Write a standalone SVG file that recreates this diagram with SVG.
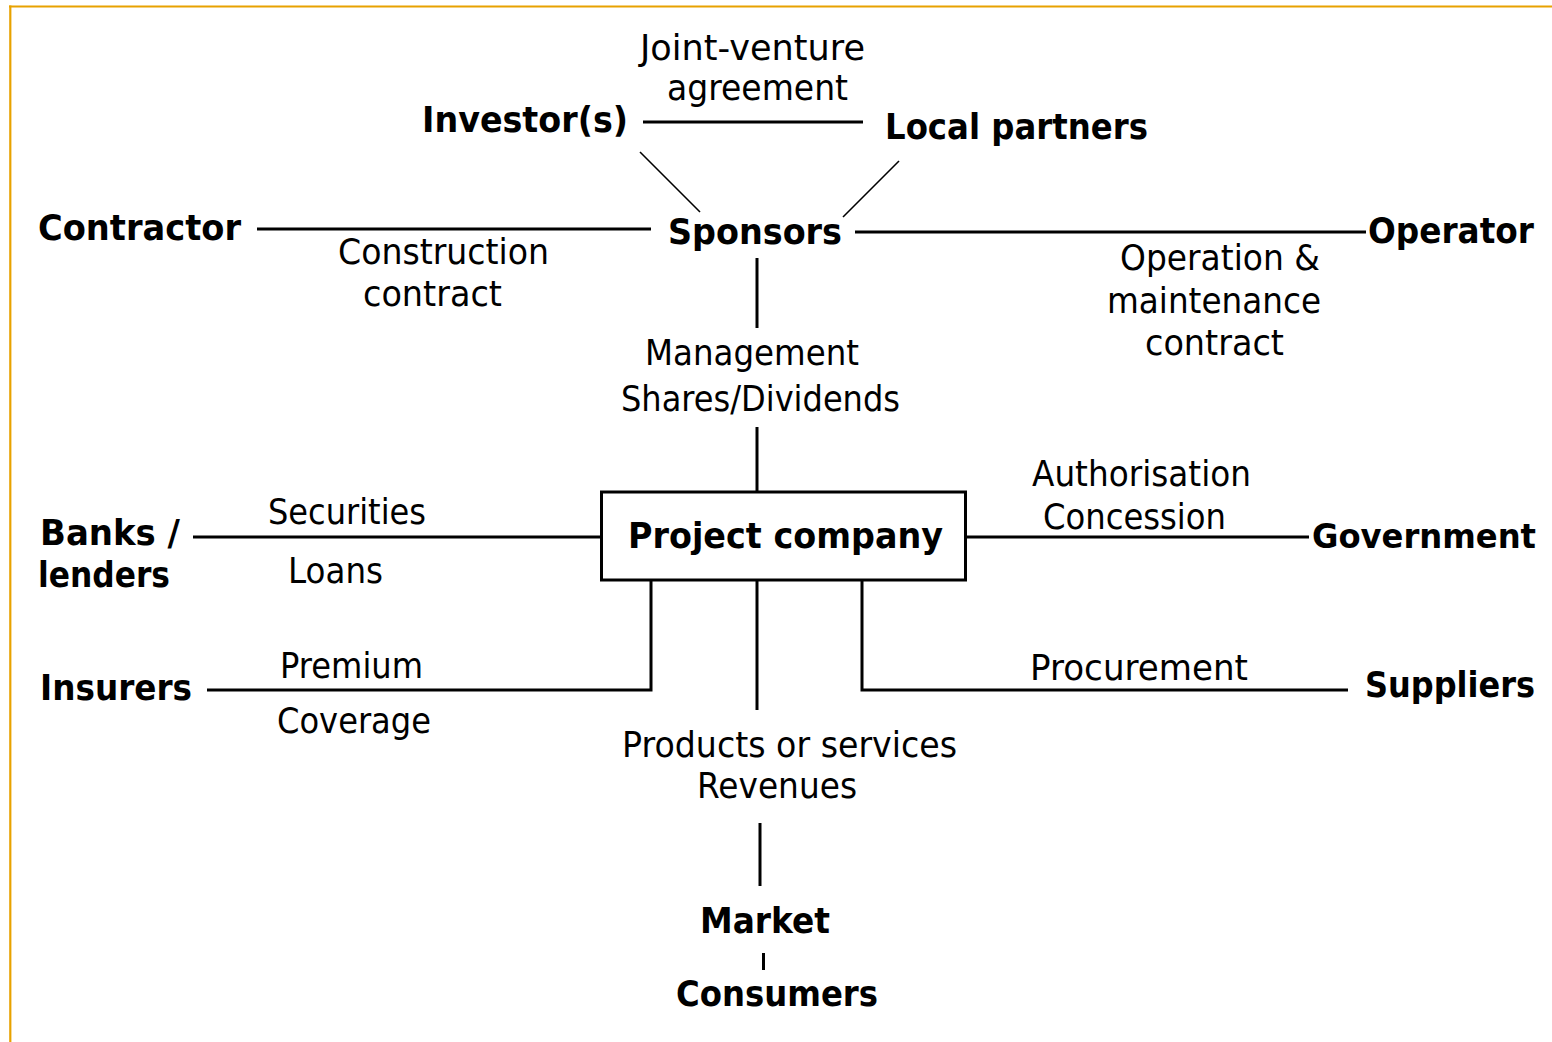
<svg xmlns="http://www.w3.org/2000/svg" width="1552" height="1042" viewBox="0 0 1552 1042">
<style>
.b{font-family:"DejaVu Sans","Liberation Sans",sans-serif;font-weight:bold;font-size:35px;fill:#000}
.r{font-family:"DejaVu Sans","Liberation Sans",sans-serif;font-size:35px;fill:#000}
.ln{stroke:#000;stroke-width:3;fill:none}
.dg{stroke:#000;stroke-width:1.6;fill:none}
</style>
<rect width="1552" height="1042" fill="#fff"/>
<g id="frame">
<line x1="9" y1="6.5" x2="1552" y2="6.5" stroke="#E8A200" stroke-width="2.2"/>
<line x1="10.3" y1="5.5" x2="10.3" y2="1042" stroke="#E8A200" stroke-width="2.2"/>
</g>
<g id="connectors">
<line class="ln" x1="643" y1="122" x2="863" y2="122"/>
<line class="dg" x1="640" y1="152" x2="700" y2="212"/>
<line class="dg" x1="899" y1="161" x2="843" y2="217"/>
<line class="ln" x1="257" y1="229" x2="651" y2="229"/>
<line class="ln" x1="855" y1="232" x2="1366" y2="232"/>
<line class="ln" x1="757" y1="258" x2="757" y2="328"/>
<line class="ln" x1="757" y1="427" x2="757" y2="491"/>
<line class="ln" x1="193" y1="537" x2="600" y2="537"/>
<line class="ln" x1="967" y1="537" x2="1309" y2="537"/>
<polyline class="ln" points="207,690 651,690 651,580"/>
<polyline class="ln" points="862,580 862,690 1348,690"/>
<line class="ln" x1="757" y1="580" x2="757" y2="710"/>
<line class="ln" x1="760" y1="823" x2="760" y2="886"/>
<line class="ln" x1="763.5" y1="953" x2="763.5" y2="970"/>
</g>
<g id="node-project-company">
<rect x="601.5" y="492" width="364" height="88" fill="#fff" stroke="#000" stroke-width="3"/>
<text class="b" x="628" y="548" textLength="315" lengthAdjust="spacingAndGlyphs">Project company</text>
</g>
<g id="node-investors"><text class="b" x="422" y="132" textLength="206" lengthAdjust="spacingAndGlyphs">Investor(s)</text></g>
<g id="node-local-partners"><text class="b" x="885" y="139" textLength="263" lengthAdjust="spacingAndGlyphs">Local partners</text></g>
<g id="node-contractor"><text class="b" x="38" y="240" textLength="203" lengthAdjust="spacingAndGlyphs">Contractor</text></g>
<g id="node-sponsors"><text class="b" x="668" y="244" textLength="174" lengthAdjust="spacingAndGlyphs">Sponsors</text></g>
<g id="node-operator"><text class="b" x="1368" y="243" textLength="166" lengthAdjust="spacingAndGlyphs">Operator</text></g>
<g id="node-banks">
<text class="b" x="40" y="545" textLength="140" lengthAdjust="spacingAndGlyphs">Banks /</text>
<text class="b" x="38" y="587" textLength="132" lengthAdjust="spacingAndGlyphs">lenders</text>
</g>
<g id="node-government"><text class="b" x="1312" y="548" font-size="33" style="font-size:33px" textLength="224" lengthAdjust="spacingAndGlyphs">Government</text></g>
<g id="node-insurers"><text class="b" x="40" y="700" textLength="152" lengthAdjust="spacingAndGlyphs">Insurers</text></g>
<g id="node-suppliers"><text class="b" x="1365" y="697" textLength="170" lengthAdjust="spacingAndGlyphs">Suppliers</text></g>
<g id="node-market"><text class="b" x="700" y="933" textLength="130" lengthAdjust="spacingAndGlyphs">Market</text></g>
<g id="node-consumers"><text class="b" x="676" y="1006" textLength="202" lengthAdjust="spacingAndGlyphs">Consumers</text></g>
<g id="labels">
<text class="r" x="640" y="60" textLength="225" lengthAdjust="spacingAndGlyphs">Joint-venture</text>
<text class="r" x="667" y="100" textLength="181" lengthAdjust="spacingAndGlyphs">agreement</text>
<text class="r" x="338" y="264" textLength="211" lengthAdjust="spacingAndGlyphs">Construction</text>
<text class="r" x="363" y="306" textLength="139" lengthAdjust="spacingAndGlyphs">contract</text>
<text class="r" x="1120" y="270" textLength="200" lengthAdjust="spacingAndGlyphs">Operation &amp;</text>
<text class="r" x="1107" y="313" textLength="214" lengthAdjust="spacingAndGlyphs">maintenance</text>
<text class="r" x="1145" y="355" textLength="139" lengthAdjust="spacingAndGlyphs">contract</text>
<text class="r" x="645" y="365" textLength="214" lengthAdjust="spacingAndGlyphs">Management</text>
<text class="r" x="621" y="411" textLength="279" lengthAdjust="spacingAndGlyphs">Shares/Dividends</text>
<text class="r" x="1032" y="486" textLength="219" lengthAdjust="spacingAndGlyphs">Authorisation</text>
<text class="r" x="1043" y="529" textLength="183" lengthAdjust="spacingAndGlyphs">Concession</text>
<text class="r" x="268" y="524" textLength="158" lengthAdjust="spacingAndGlyphs">Securities</text>
<text class="r" x="288" y="583" textLength="95" lengthAdjust="spacingAndGlyphs">Loans</text>
<text class="r" x="280" y="678" textLength="143" lengthAdjust="spacingAndGlyphs">Premium</text>
<text class="r" x="277" y="733" textLength="154" lengthAdjust="spacingAndGlyphs">Coverage</text>
<text class="r" x="1030" y="680" textLength="218" lengthAdjust="spacingAndGlyphs">Procurement</text>
<text class="r" x="622" y="757" textLength="335" lengthAdjust="spacingAndGlyphs">Products or services</text>
<text class="r" x="697" y="798" textLength="160" lengthAdjust="spacingAndGlyphs">Revenues</text>
</g>
</svg>
